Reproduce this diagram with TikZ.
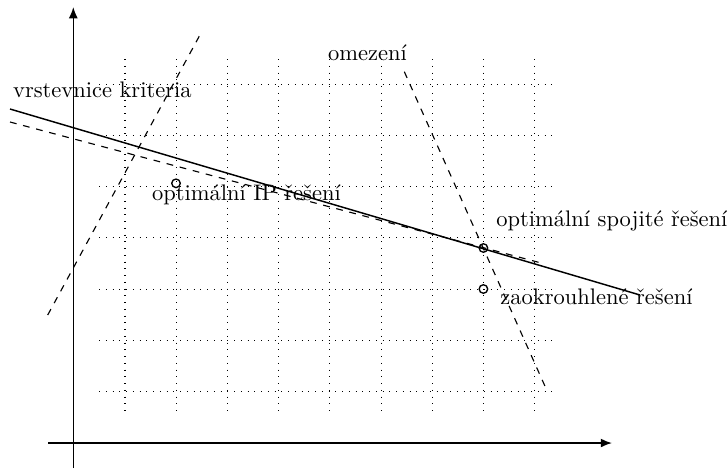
\documentclass[tikz,border=0pt]{standalone}
\usetikzlibrary{arrows.meta}
\begin{document}
\begin{tikzpicture}[x=0.4444pt,y=-0.4444pt,
  gridline/.style={line width=0.45pt,dash pattern=on 0.45pt off 2.55pt},
  axis/.style={line width=0.7pt,-{Latex[length=5pt,width=4pt]}},
  contour/.style={line width=0.65pt},
  cons/.style={dashed,line width=0.5pt},
  pt/.style={circle,draw,line width=0.6pt,inner sep=0pt,minimum size=3.8pt},
  lbl/.style={inner sep=0pt,font=\fontsize{10}{12}\selectfont}]
\useasboundingbox (0,0) rectangle (728,470);
% grid
\foreach \x in {125,176.2,227.4,278.6,329.8,381,432.2,483.4,534.6}
  \draw[gridline] (\x,59) -- (\x,412);
\foreach \y in {84.2,135.4,186.6,237.8,289,340.2,391.4}
  \draw[gridline] (99,\y) -- (555,\y);
% axes
\coordinate (xs) at (48,443);
\coordinate (xe) at (612,443);
\coordinate (ys) at (73.3,468);
\coordinate (ye) at (73.3,7);
\draw[axis] (xs) -- (xe);
\draw[axis] (ys) -- (ye);
% contour lines
\coordinate (c1) at (10,109);
\coordinate (c2) at (640,295);
\draw[contour] (c1) -- (c2);
\coordinate (d1) at (10,122);
\coordinate (d2) at (545,264);
\draw[cons] (d1) -- (d2);
% constraints
\coordinate (a1) at (47.7,315);
\coordinate (a2) at (201,33);
\draw[cons] (a1) -- (a2);
\coordinate (b1) at (404.3,71.7);
\coordinate (b2) at (546.7,390);
\draw[cons] (b1) -- (b2);
% points
\node[pt] (pc) at (483.4,248) {};
\node[pt] (pip) at (176,183.3) {};
\node[pt] (pr) at (483.4,289) {};
% labels
\node[lbl,anchor=base west] (l1) at (12.7,97.5) {vrstevnice kriteria};
\node[lbl,anchor=base west] (l2) at (327.7,60) {omezení};
\node[lbl,anchor=base west] (l3) at (151.7,200.5) {optimální IP řešení};
\node[lbl,anchor=base west] (l4) at (496,226.5) {optimální spojité řešení};
\node[lbl,anchor=base west] (l5) at (500,304) {zaokrouhlené řešení};
\end{tikzpicture}
\end{document}
